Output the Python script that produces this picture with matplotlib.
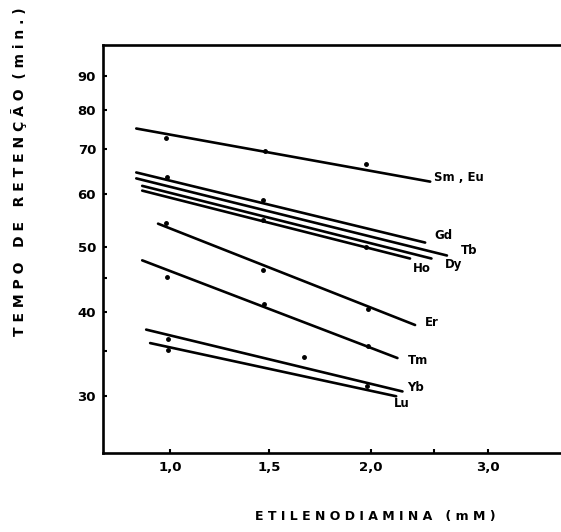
import numpy as np
import matplotlib
matplotlib.use('Agg')
import matplotlib.pyplot as plt
from matplotlib.ticker import FixedLocator, NullFormatter

# --- dados ---
elements = ['Sm , Eu', 'Gd', 'Tb', 'Dy', 'Ho', 'Er', 'Tm', 'Yb', 'Lu']
x_start = [0.83, 0.83, 0.83, 0.86, 0.86, 0.94, 0.86, 0.88, 0.90]
x_end = [2.47, 2.43, 2.62, 2.48, 2.31, 2.35, 2.21, 2.25, 2.20]
t_start = [75.1, 64.6, 63.3, 61.7, 60.7, 54.2, 47.8, 37.7, 36.0]
t_end = [62.6, 50.8, 48.6, 48.1, 48.1, 38.3, 34.2, 30.5, 30.0]

# pontos experimentais visiveis
pts_x = [0.98, 1.48, 1.975, 0.985, 1.47, 1.47, 1.975, 0.98, 1.47, 1.985,
         0.985, 1.475, 1.985, 0.99, 0.99, 1.67, 1.98]
pts_y = [72.8, 69.6, 66.4, 63.5, 58.7, 54.8, 50.0, 54.4, 46.3, 40.5,
         45.1, 41.1, 35.7, 36.5, 35.1, 34.3, 31.1]

# posicao dos rotulos
label_x = [2.50, 2.50, 2.75, 2.60, 2.33, 2.43, 2.29, 2.29, 2.18]
label_y = [63.5, 52.0, 49.4, 47.2, 46.5, 38.6, 33.9, 30.9, 29.3]

x_ticks = [1.0, 1.5, 2.0, 2.5, 3.0]
x_ticklabels = ['1,0', '1,5', '2,0', '', '3,0']
y_ticks = [30, 40, 50, 60, 70, 80, 90]
y_minor = [35, 45]

# eixo x desenhado a mao: espacamento irregular entre as marcas
knots_data = [0.0, 1.0, 1.5, 2.0, 2.5, 3.0, 4.0]
knots_pos = [-28, 170, 269, 371, 434, 488, 596]


def fwd(x):
    return np.interp(x, knots_data, knots_pos)


def inv(p):
    return np.interp(p, knots_pos, knots_data)


fig = plt.figure(figsize=(5.61, 5.32), dpi=100)
ax = fig.add_axes([0.1836, 0.1485, 0.8164, 0.767])
ax.set_xscale('function', functions=(fwd, inv))
ax.set_yscale('log')

for i, name in enumerate(elements):
    ax.plot([x_start[i], x_end[i]], [t_start[i], t_end[i]], color='black',
            lw=1.9, solid_capstyle='round')
    ax.text(label_x[i], label_y[i], name, fontsize=8.5, fontweight='bold',
            ha='left', va='center')

ax.plot(pts_x, pts_y, 'o', color='black', ms=2.5)

ax.set_xlim(0.662, 3.676)
ax.set_ylim(24.7, 100)

ax.xaxis.set_major_locator(FixedLocator(x_ticks))
ax.set_xticklabels(x_ticklabels)
ax.xaxis.set_minor_locator(FixedLocator([]))
ax.yaxis.set_major_locator(FixedLocator(y_ticks))
ax.set_yticklabels([str(v) for v in y_ticks])
ax.yaxis.set_minor_locator(FixedLocator(y_minor))
ax.yaxis.set_minor_formatter(NullFormatter())

ax.tick_params(which='both', direction='in', length=3, width=1.5,
               labelsize=9.5)
ax.tick_params(axis='x', pad=6)
ax.tick_params(axis='y', pad=5)
for lab in ax.get_xticklabels() + ax.get_yticklabels():
    lab.set_fontweight('bold')

for s in ['left', 'bottom', 'top']:
    ax.spines[s].set_linewidth(1.9)
ax.spines['right'].set_visible(False)

ax.set_ylabel('T E M P O   D E   R E T E N Ç Ã O  ( m i n . )',
              fontsize=10, fontweight='bold')
ax.yaxis.set_label_coords(-0.165, 0.69)
ax.set_xlabel('E T I L E N O D I A M I N A   ( m M )',
              fontsize=9, fontweight='bold')
ax.xaxis.set_label_coords(0.595, -0.14)

fig.savefig('out.png', dpi=100)
